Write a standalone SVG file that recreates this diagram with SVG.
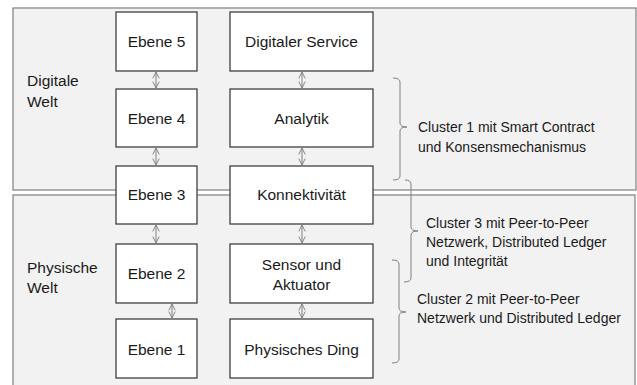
<svg xmlns="http://www.w3.org/2000/svg" width="637" height="385" viewBox="0 0 637 385">
<defs>
<style>
.panel{fill:#f2f2f2;stroke:#7f7f7f;stroke-width:1.2}
.box{fill:#ffffff;stroke:#404040;stroke-width:1.3}
.bt{font-family:"Liberation Sans",Arial,sans-serif;font-size:15.5px;fill:#1a1a1a;text-anchor:middle}
.lt{font-family:"Liberation Sans",Arial,sans-serif;font-size:15.5px;fill:#1a1a1a}
.ct{font-family:"Liberation Sans",Arial,sans-serif;font-size:14px;fill:#1a1a1a}
.arr{stroke:#808080;stroke-width:1;fill:none;marker-start:url(#ah);marker-end:url(#ah)}
.br{stroke:#808080;stroke-width:1;fill:none}
</style>
<marker id="ah" viewBox="0 0 10 10" refX="9" refY="5" markerWidth="8" markerHeight="8" orient="auto-start-reverse" markerUnits="userSpaceOnUse">
<path d="M1,1 L9,5 L1,9" fill="none" stroke="#808080" stroke-width="1.2"/>
</marker>
</defs>
<g id="panels">
<rect id="digitale-welt" class="panel" x="13" y="8" width="623" height="182"/>
<rect id="physische-welt" class="panel" x="13" y="195" width="622" height="195"/>
<text class="lt" x="27" y="86">Digitale</text>
<text class="lt" x="27" y="107">Welt</text>
<text class="lt" x="27" y="273">Physische</text>
<text class="lt" x="27" y="293">Welt</text>
</g>
<g id="connectors">
<line class="arr" x1="156" y1="72" x2="156" y2="88"/>
<line class="arr" x1="156" y1="148" x2="156" y2="165"/>
<line class="arr" x1="156" y1="225" x2="156" y2="243"/>
<line class="arr" x1="172" y1="304" x2="172" y2="318"/>
<line class="arr" x1="302" y1="72" x2="302" y2="88"/>
<line class="arr" x1="302" y1="148" x2="302" y2="165"/>
<line class="arr" x1="302" y1="225" x2="302" y2="243"/>
<line class="arr" x1="302" y1="304" x2="302" y2="318"/>
<path class="br" d="M393,78 Q400,78 400,82 L400,123 Q400,127 407,127 Q400,127 400,131 L400,176 Q400,180 393,180"/>
<path class="br" d="M405,180 Q411,180 411,184 L411,227 Q411,231 418,231 Q411,231 411,235 L411,278 Q411,282 404,282"/>
<path class="br" d="M392,260 Q399,260 399,264 L399,308 Q399,312 406,312 Q399,312 399,316 L399,359 Q399,363 392,363"/>
</g>
<g id="ebene5"><rect class="box" x="116" y="12" width="81" height="59"/><text class="bt" x="156.5" y="47">Ebene 5</text></g>
<g id="ebene4"><rect class="box" x="116" y="89" width="81" height="58"/><text class="bt" x="156.5" y="124">Ebene 4</text></g>
<g id="ebene3"><rect class="box" x="116" y="166" width="81" height="58"/><text class="bt" x="156.5" y="200">Ebene 3</text></g>
<g id="ebene2"><rect class="box" x="116" y="244" width="81" height="59"/><text class="bt" x="156.5" y="279">Ebene 2</text></g>
<g id="ebene1"><rect class="box" x="116" y="319" width="81" height="59"/><text class="bt" x="156.5" y="355">Ebene 1</text></g>
<g id="digitaler-service"><rect class="box" x="230" y="12" width="143" height="59"/><text class="bt" x="301.5" y="47">Digitaler Service</text></g>
<g id="analytik"><rect class="box" x="230" y="89" width="143" height="58"/><text class="bt" x="301.5" y="124">Analytik</text></g>
<g id="konnektivitaet"><rect class="box" x="230" y="166" width="143" height="58"/><text class="bt" x="301.5" y="200">Konnektivität</text></g>
<g id="sensor"><rect class="box" x="230" y="244" width="143" height="59"/><text class="bt" x="301.5" y="270">Sensor und</text><text class="bt" x="301.5" y="290">Aktuator</text></g>
<g id="physisches-ding"><rect class="box" x="230" y="319" width="143" height="59"/><text class="bt" x="301.5" y="355">Physisches Ding</text></g>
<g id="cluster1"><text class="ct" x="418" y="132">Cluster 1 mit Smart Contract</text><text class="ct" x="418" y="152">und Konsensmechanismus</text></g>
<g id="cluster3"><text class="ct" x="426" y="228">Cluster 3 mit Peer-to-Peer</text><text class="ct" x="426" y="247">Netzwerk, Distributed Ledger</text><text class="ct" x="426" y="266">und Integrität</text></g>
<g id="cluster2"><text class="ct" x="417" y="304">Cluster 2 mit Peer-to-Peer</text><text class="ct" x="417" y="323">Netzwerk und Distributed Ledger</text></g>
</svg>
